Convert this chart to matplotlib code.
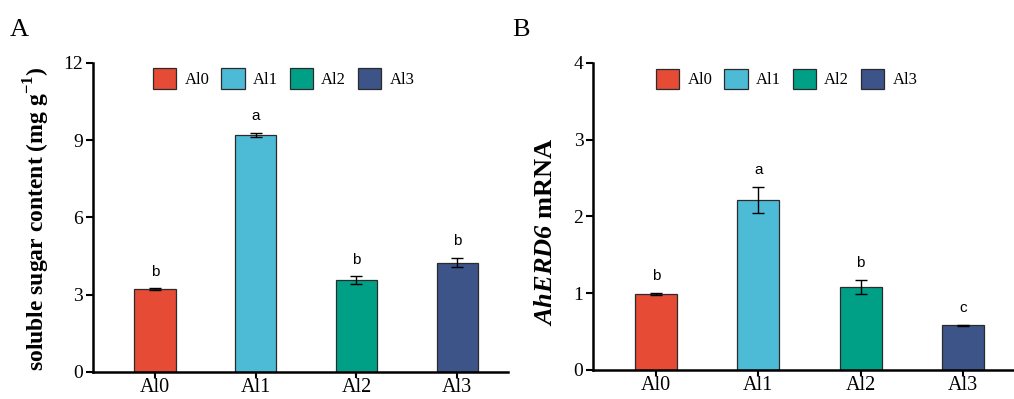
import matplotlib
matplotlib.use("Agg")
import matplotlib.pyplot as plt
from matplotlib.patches import Patch

# Daten
gruppen = ["Al0", "Al1", "Al2", "Al3"]
farben = ["#E64B35", "#4DBBD5", "#00A087", "#3C5488"]

zucker = [3.21, 9.20, 3.57, 4.24]
zucker_err = [0.03, 0.08, 0.14, 0.18]
zucker_buchst = ["b", "a", "b", "b"]

erd6 = [0.99, 2.21, 1.08, 0.58]
erd6_err = [0.01, 0.17, 0.09, 0.01]
erd6_buchst = ["b", "a", "b", "c"]

plt.rcParams['font.family'] = ['Liberation Serif', 'DejaVu Serif']
plt.rcParams['mathtext.fontset'] = 'custom'
plt.rcParams['mathtext.rm'] = 'Liberation Serif'
plt.rcParams['mathtext.sf'] = 'Liberation Serif:italic:bold'
plt.rcParams['mathtext.bf'] = 'Liberation Serif:bold'

fig = plt.figure(figsize=(10.14, 3.99), dpi=100)
axA = fig.add_axes([0.0917, 0.0677, 0.409, 0.775])
axB = fig.add_axes([0.585, 0.0727, 0.415, 0.770])


def panel(ax, werte, fehler, buchst, ymax, ticks, ylabel, label_kw):
    x = range(len(gruppen))
    ax.bar(x, werte, width=0.41, color=farben, edgecolor="#2b2b2b", linewidth=0.9, zorder=2)
    ax.errorbar(x, werte, yerr=fehler, fmt="none", ecolor="black", elinewidth=1.0,
                capsize=4, capthick=1.0, zorder=3)
    for xi, w, f, b in zip(x, werte, fehler, buchst):
        ax.annotate(b, (xi, w + f), xytext=(0, 7), textcoords="offset points",
                    ha="center", va="bottom", fontsize=11, family="Liberation Sans")
    ax.set_xlim(-0.614, 3.5)
    ax.set_ylim(0, ymax)
    ax.set_yticks(ticks)
    ax.set_xticks(list(x))
    ax.set_xticklabels(gruppen, fontsize=14.5)
    ax.tick_params(axis="y", labelsize=14, width=1.5, length=5, direction="out", pad=2)
    ax.tick_params(axis="x", width=1.5, length=4, direction="out", pad=0.5)
    for s in ["top", "right"]:
        ax.spines[s].set_visible(False)
    for s in ["left", "bottom"]:
        ax.spines[s].set_linewidth(1.8)
    ax.set_ylabel(ylabel, **label_kw)
    handles = [Patch(facecolor=c, edgecolor="#2b2b2b", linewidth=0.9, label=g)
               for c, g in zip(farben, gruppen)]
    ax.legend(handles=handles, ncol=4, loc="upper center", bbox_to_anchor=(0.46, 1.03),
              frameon=False, fontsize=12, handlelength=1.4, handleheight=1.5,
              handletextpad=0.5, columnspacing=0.7)


panel(axA, zucker, zucker_err, zucker_buchst, 12, [0, 3, 6, 9, 12],
      r"soluble sugar content (mg g$^{\mathbf{-1}}$)",
      dict(fontsize=17, fontweight="bold"))
panel(axB, erd6, erd6_err, erd6_buchst, 4, [0, 1, 2, 3, 4],
      r"$\mathsf{AhERD6}$ mRNA", dict(fontsize=19, fontweight="bold"))
axA.yaxis.set_label_coords(-0.10, 0.495)
axB.yaxis.set_label_coords(-0.085, 0.45)

fig.text(0.010, 0.91, "A", fontsize=19)
fig.text(0.505, 0.91, "B", fontsize=19)

fig.savefig("out.png", dpi=100)
